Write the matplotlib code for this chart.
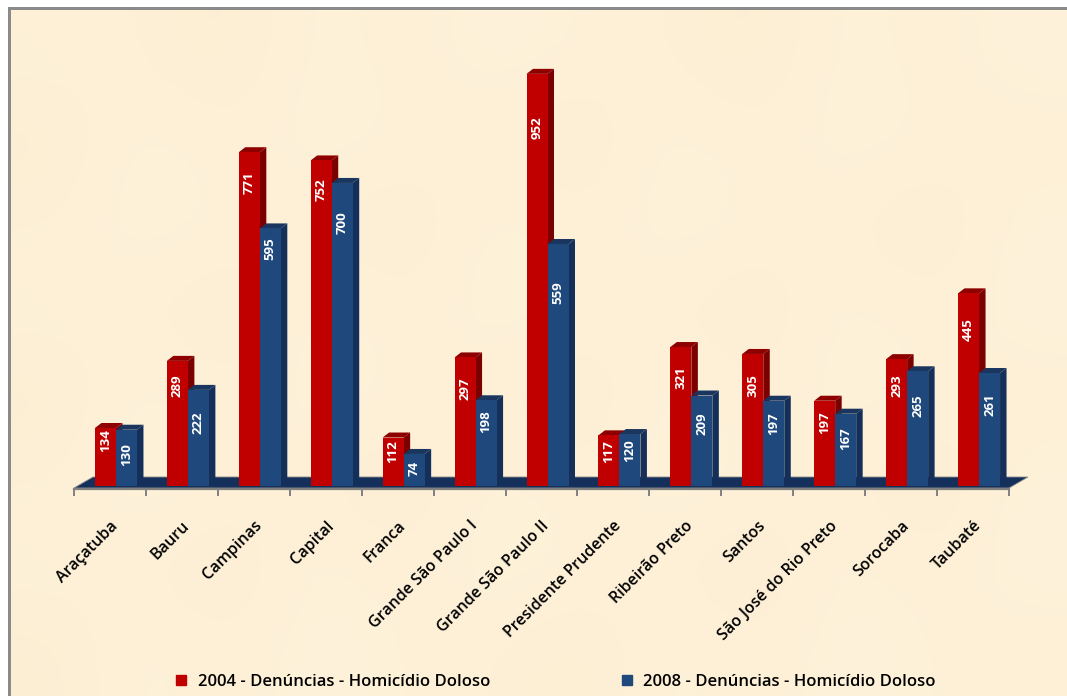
import numpy as np
import matplotlib
matplotlib.use("Agg")
import matplotlib.pyplot as plt
from matplotlib.patches import Polygon, Rectangle
from matplotlib.lines import Line2D

regions = ["Araçatuba", "Bauru", "Campinas", "Capital", "Franca", "Grande São Paulo I",
           "Grande São Paulo II", "Presidente Prudente", "Ribeirão Preto", "Santos",
           "São José do Rio Preto", "Sorocaba", "Taubaté"]
den_2004 = [134, 289, 771, 752, 112, 297, 952, 117, 321, 305, 197, 293, 445]
den_2008 = [130, 222, 595, 700, 74, 198, 559, 120, 209, 197, 167, 265, 261]

# how far up the bar each label sits (share of bar height)
pos_2004 = [0.79, 0.80, 0.91, 0.91, 0.70, 0.76, 0.87, 0.67, 0.78, 0.76, 0.74, 0.79, 0.81]
pos_2008 = [0.55, 0.66, 0.92, 0.87, 0.56, 0.75, 0.80, 0.69, 0.69, 0.73, 0.66, 0.70, 0.72]

legend_names = ["2004 - Denúncias - Homicídio Doloso", "2008 - Denúncias - Homicídio Doloso"]

# paper tint of the background, coarse patches
paper = [[253, 241, 216], [254, 240, 214], [252, 238, 211], [254, 242, 218], [253, 240, 214], [254, 242, 219]]
paper_rows = np.array([[paper[(r * 2 + c) % 6] for c in range(12)] for r in range(8)], dtype=float) / 255

W, H = 1067, 698
fig = plt.figure(figsize=(W / 100, H / 100), dpi=100, facecolor="white")
plt.rcParams["font.family"] = ["Open Sans", "DejaVu Sans"]

# background panel with grey border on left and top
bg = fig.add_axes([0, 0, 1, 1])
bg.set_xlim(0, W)
bg.set_ylim(H, 0)
bg.axis("off")
bg.imshow(paper_rows, extent=(10, W, H - 2, 10), aspect="auto", interpolation="bicubic", zorder=1)
bg.add_patch(Rectangle((8, 7), 3, H - 9, color="#8a8a8a", lw=0, zorder=2))
bg.add_patch(Rectangle((8, 7), W - 8, 3, color="#8a8a8a", lw=0, zorder=2))
bg.set_xlim(0, W)
bg.set_ylim(H, 0)

# plot area, px positions of the axis
x0, x1, y0, y1 = 74, 1009, 486, 60
ax = fig.add_axes([x0 / W, 1 - y0 / H, (x1 - x0) / W, (y0 - y1) / H])
ax.patch.set_alpha(0)
ax.set_xlim(-0.5, 12.5)
ax.set_ylim(0, 984)

px_x = 13 / (x1 - x0)
px_y = 984 / (y0 - y1)
dx, dy = 6.5 * px_x, 5 * px_y
width = 21 * px_x
shift = 6 * px_x

RED, RED_SIDE, RED_TOP = "#C00000", "#7B0000", "#8E0000"
BLUE = ["#1F497D", "#14305A", "#1A365F"]
BLUE_F, BLUE_SIDE, BLUE_TOP = BLUE


def bar3d(x, v, front, side, top, z):
    ax.add_patch(Polygon([(x + width, 0), (x + width + dx, dy), (x + width + dx, v + dy), (x + width, v)],
                         color=side, lw=0, zorder=z))
    ax.add_patch(Polygon([(x, v), (x + dx, v + dy), (x + width + dx, v + dy), (x + width, v)],
                         color=top, lw=0, zorder=z))
    ax.bar(x, v, width, align="edge", color=front, zorder=z + 0.1)


# floor
ax.add_patch(Polygon([(-0.5, -2 * px_y), (12.5, -2 * px_y), (12.5 + 19 * px_x, 9 * px_y), (-0.5 + 19 * px_x, 9 * px_y)],
                     facecolor="#14305A", edgecolor="#8a8a8a", lw=0.6, clip_on=False, zorder=1))

for i in range(len(regions)):
    xr = i + shift - width
    xb = i + shift
    bar3d(xr, den_2004[i], RED, RED_SIDE, RED_TOP, 2 + i)
    bar3d(xb, den_2008[i], BLUE_F, BLUE_SIDE, BLUE_TOP, 2.3 + i)
    ax.text(xr + width / 2, den_2004[i] * pos_2004[i], str(den_2004[i]), rotation=90, color="white",
            ha="center", va="center", fontsize=9.5, fontweight="bold", zorder=40)
    ax.text(xb + width / 2, den_2008[i] * pos_2008[i], str(den_2008[i]), rotation=90, color="white",
            ha="center", va="center", fontsize=9.5, fontweight="bold", zorder=40)

for s in ["top", "left", "right"]:
    ax.spines[s].set_visible(False)
ax.spines["bottom"].set_position(("outward", 2))
ax.spines["bottom"].set_color("#808080")
ax.spines["bottom"].set_linewidth(1.6)
ax.set_yticks([])
ax.set_xticks(np.arange(-0.5, 13, 1))
ax.set_xticklabels([])
ax.tick_params(axis="x", which="major", length=5, width=1.4, color="#808080")
ax.set_xticks(np.arange(13), minor=True)
ax.set_xticklabels(regions, minor=True, rotation=45, ha="right", rotation_mode="anchor",
                   fontsize=11.5, fontweight="semibold", color="black")
ax.tick_params(axis="x", which="minor", length=0, pad=21)

handles = [Line2D([], [], ls="", marker="s", ms=7.5, color=RED),
           Line2D([], [], ls="", marker="s", ms=7.5, color=BLUE_F)]
fig.legend(handles, legend_names, loc="center", bbox_to_anchor=(550 / W, 1 - 682 / H), ncol=2, frameon=False,
           fontsize=12, handletextpad=0.0, columnspacing=7.2, prop={"size": 12, "weight": "semibold"})

fig.savefig("out.png", dpi=100)
